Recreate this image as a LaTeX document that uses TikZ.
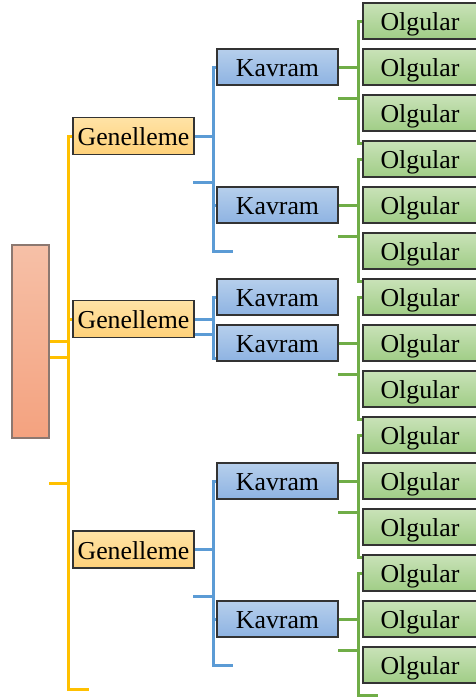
\documentclass[tikz,border=0pt]{standalone}
\usepackage{fontspec}
\setmainfont{Liberation Serif}
\usetikzlibrary{backgrounds}
\definecolor{yline}{HTML}{FFC000}
\definecolor{bline}{HTML}{5B9BD5}
\definecolor{gline}{HTML}{70AD47}
\definecolor{olgtop}{HTML}{C9E2B8}
\definecolor{olgbot}{HTML}{A0CD86}
\definecolor{kavtop}{HTML}{B6CFEC}
\definecolor{kavbot}{HTML}{8EB3E2}
\definecolor{gentop}{HTML}{FFE3A6}
\definecolor{genbot}{HTML}{FFD179}
\definecolor{ltop}{HTML}{F6C0A7}
\definecolor{lbot}{HTML}{F4A27F}
\definecolor{lborder}{HTML}{8C7870}
\definecolor{bxborder}{HTML}{333333}
\tikzset{
  box/.style={draw=bxborder, line width=1.1pt, inner sep=0pt, text height=19pt, text depth=0pt, font=\fontsize{25.8}{30}\selectfont},
  olg/.style={box, minimum width=114pt, minimum height=36pt, top color=olgtop, bottom color=olgbot},
  kav/.style={box, minimum width=121pt, minimum height=36pt, top color=kavtop, bottom color=kavbot},
  gen/.style={box, minimum width=121pt, minimum height=37pt, top color=gentop, bottom color=genbot},
  lbox/.style={draw=lborder, line width=1.3pt, inner sep=0pt, minimum width=37pt, minimum height=193pt, top color=ltop, bottom color=lbot},
  yl/.style={draw=yline, line width=3pt},
  bl/.style={draw=bline, line width=3pt},
  gl/.style={draw=gline, line width=3pt},
}
\begin{document}
\begin{tikzpicture}[x=1pt,y=-1pt]
\useasboundingbox (0,0) rectangle (476,697);
% Olgular boxes
\foreach \i in {0,...,14}
  \node[olg] (o\i) at (420,{21+46*\i}) {Olgular};
% Kavram boxes
\node[kav] (k1) at (277.5,67) {Kavram};
\node[kav] (k2) at (277.5,205) {Kavram};
\node[kav] (k3) at (277.5,297) {Kavram};
\node[kav] (k4) at (277.5,343) {Kavram};
\node[kav] (k5) at (277.5,481) {Kavram};
\node[kav] (k6) at (277.5,619) {Kavram};
% Genelleme boxes
\node[gen] (g1) at (133.5,136) {Genelleme};
\node[gen] (g2) at (133.5,319) {Genelleme};
\node[gen] (g3) at (133.5,549.5) {Genelleme};
% Left box
\node[lbox] (L) at (30.5,341.5) {};

\begin{scope}[on background layer]
% green groups
\foreach \g/\k in {0/k1,1/k2,2/k4,3/k5,4/k6}{
  \pgfmathtruncatemacro{\first}{3*\g}
  \pgfmathsetmacro{\ctop}{21+138*\g}
  \coordinate (gt\g) at (358,\ctop);
  \coordinate (gb\g) at (358,\ctop+122);
  \coordinate (ge\g) at (378,\ctop+122);
  \coordinate (gs\g) at (338,\ctop+77);
  \draw[gl] (o\first.west) -- (gt\g) -- (gb\g) -- (ge\g);
  \draw[gl] (gs\g) -- (gs\g -| gt\g);
  \draw[gl] (\k.east) -- (\k.east -| gt\g);
}
% blue group 1
\coordinate (bb1) at (213,251);
\coordinate (be1) at (233,251);
\coordinate (bs1) at (193,182);
\draw[bl] (k1.west) -| (bb1) -- (be1);
\draw[bl] (g1.east) -- (g1.east -| bb1);
\draw[bl] (bs1) -- (bs1 -| bb1);
\draw[bl] (k2.west) -- (k2.west -| bb1);
% blue group 2
\coordinate (bb2) at (213,358);
\draw[bl] (k3.west) -| (bb2) -- (bb2 -| k4.west);
\draw[bl] (g2.east) -- (g2.east -| bb2);
\draw[bl] ([yshift=-15pt]g2.east) -- ([yshift=-15pt]g2.east -| bb2);
% blue group 3
\coordinate (bb3) at (213,665);
\coordinate (be3) at (233,665);
\coordinate (bs3) at (193,596);
\draw[bl] (k5.west) -| (bb3) -- (be3);
\draw[bl] (g3.east) -- (g3.east -| bb3);
\draw[bl] (bs3) -- (bs3 -| bb3);
\draw[bl] (k6.west) -- (k6.west -| bb3);
% yellow
\coordinate (yb) at (68.5,689);
\coordinate (ye) at (89,689);
\coordinate (ys) at (49,483);
\draw[yl] (g1.west) -| (yb) -- (ye);
\draw[yl] (g2.west) -- (g2.west -| yb);
\draw[yl] ([yshift=0.5pt]L.east) -- ([yshift=0.5pt]L.east -| yb);
\draw[yl] ([yshift=-15.5pt]L.east) -- ([yshift=-15.5pt]L.east -| yb);
\draw[yl] (ys) -- (ys -| yb);
\end{scope}
\end{tikzpicture}
\end{document}
